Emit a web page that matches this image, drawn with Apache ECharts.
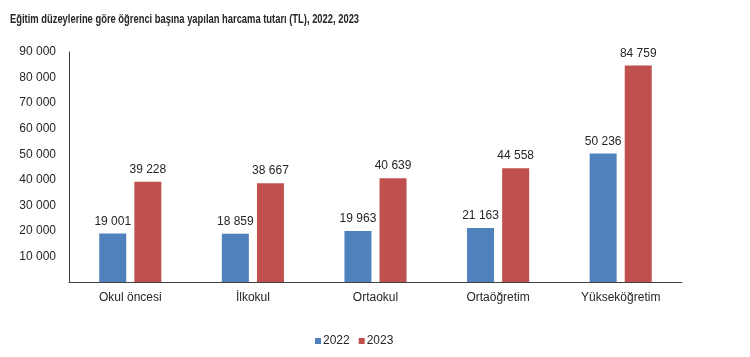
<!DOCTYPE html>
<html><head><meta charset="utf-8">
<script src="https://cdn.jsdelivr.net/npm/echarts@6/dist/echarts.min.js"></script>
<style>html,body{margin:0;padding:0;background:#fff}#c{width:750px;height:357px}</style>
</head><body><div id="c"></div>
<script>
const titleText = 'Eğitim düzeylerine göre öğrenci başına yapılan harcama tutarı (TL), 2022, 2023';
const categories = ['Okul öncesi', 'İlkokul', 'Ortaokul', 'Ortaöğretim', 'Yükseköğretim'];
const seriesNames = ['2022', '2023'];
const values2022 = [19001, 18859, 19963, 21163, 50236];
const values2023 = [39228, 38667, 40639, 44558, 84759];
const colors = ['#4f81bd', '#c0504d'];

function fmt(v){ return String(v).replace(/\B(?=(\d{3})+(?!\d))/g, ' '); }
const font = 'Arial, "Liberation Sans", sans-serif';
const chart = echarts.init(document.getElementById('c'));
const mk = (name, data, color) => ({
  name, type: 'bar', data, barWidth: 27, barGap: '30%',
  itemStyle: {color},
  label: {show: true, position: 'top', distance: 6, color: '#262626', fontSize: 12, fontFamily: font, formatter: p => fmt(p.value)}
});
chart.setOption({
  animation: false,
  graphic: [{type: 'text', left: 10, top: 13, scaleX: 0.75,
    style: {text: titleText, fill: '#262626', font: 'bold 12.5px Arial, "Liberation Sans", sans-serif'}}],
  legend: {top: 335, left: 315, padding: 0, itemWidth: 6, itemHeight: 6, itemGap: 9,
    textStyle: {fontSize: 12, color: '#262626', fontFamily: font, padding: [0,0,0,-3]}, icon: 'rect'},
  grid: {left: 69, right: 68, top: 52, bottom: 75},
  xAxis: {type: 'category', data: categories,
    axisLine: {lineStyle: {color: '#404040'}}, axisTick: {show: false},
    axisLabel: {color: '#262626', fontSize: 12, fontFamily: font, margin: 10}},
  yAxis: {type: 'value', min: 0, max: 90000, interval: 10000,
    axisLine: {show: true, lineStyle: {color: '#404040'}}, axisTick: {show: false}, splitLine: {show: false},
    axisLabel: {color: '#262626', fontSize: 12, fontFamily: font, margin: 13, formatter: v => v === 0 ? '' : fmt(v)}},
  series: [mk(seriesNames[0], values2022, colors[0]), mk(seriesNames[1], values2023, colors[1])]
});
</script></body></html>
